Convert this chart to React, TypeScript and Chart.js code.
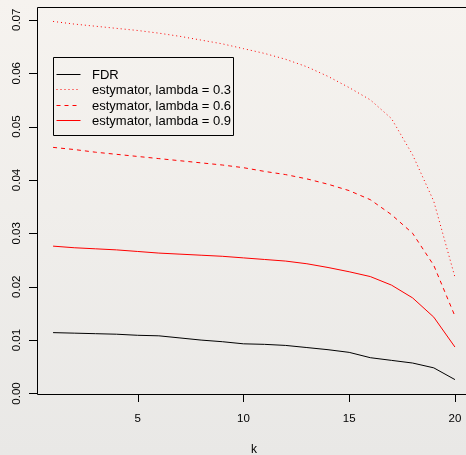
import React, { useEffect, useRef } from "react";
import { Chart, registerables } from "chart.js";

Chart.register(...registerables);

const ks = [1, 2, 3, 4, 5, 6, 7, 8, 9, 10, 11, 12, 13, 14, 15, 16, 17, 18, 19, 20];
const fdr = [0.0114, 0.0113, 0.0112, 0.0111, 0.0109, 0.0108, 0.0104, 0.0100, 0.0097, 0.0093, 0.0092, 0.0090, 0.0086, 0.0082, 0.0077, 0.0067, 0.0062, 0.0057, 0.0048, 0.0026];
const est03 = [0.0697, 0.0692, 0.0688, 0.0684, 0.0680, 0.0675, 0.0669, 0.0662, 0.0655, 0.0646, 0.0637, 0.0626, 0.0612, 0.0594, 0.0573, 0.0550, 0.0515, 0.0447, 0.0360, 0.0218];
const est06 = [0.0461, 0.0457, 0.0452, 0.0448, 0.0444, 0.0440, 0.0436, 0.0432, 0.0428, 0.0423, 0.0416, 0.0410, 0.0402, 0.0392, 0.0380, 0.0363, 0.0335, 0.0300, 0.0240, 0.0145];
const est09 = [0.0276, 0.0273, 0.0271, 0.0269, 0.0266, 0.0263, 0.0261, 0.0259, 0.0257, 0.0254, 0.0251, 0.0248, 0.0243, 0.0236, 0.0228, 0.0219, 0.0203, 0.0179, 0.0143, 0.0087];

const xTicks = [5, 10, 15, 20];
const yTicks = [0, 0.01, 0.02, 0.03, 0.04, 0.05, 0.06, 0.07];
const yTickLabels = ["0.00", "0.01", "0.02", "0.03", "0.04", "0.05", "0.06", "0.07"];
const xTitle = "k";

const legendLabels = ["FDR", "estymator, lambda = 0.3", "estymator, lambda = 0.6", "estymator, lambda = 0.9"];
const legendColors = ["#000000", "#ff0000", "#ff0000", "#ff0000"];
const legendDashes: number[][] = [[], [1, 3], [4, 4], []];

const FONT = "'Liberation Sans', Arial, Helvetica, sans-serif";

const rPlot = {
  id: "rPlot",
  beforeDraw(chart: any) {
    const { ctx, width, height } = chart;
    const g = ctx.createLinearGradient(0, 0, 0, height);
    g.addColorStop(0, "#f6f3ef");
    g.addColorStop(1, "#e9e8e6");
    ctx.save();
    ctx.fillStyle = g;
    ctx.fillRect(0, 0, width, height);
    ctx.restore();
  },
  afterDraw(chart: any) {
    const { ctx, chartArea } = chart;
    const xs = chart.scales.x;
    const ys = chart.scales.y;
    const L = chartArea.left, R = chartArea.right, T = chartArea.top, B = chartArea.bottom;
    ctx.save();
    ctx.strokeStyle = "#000";
    ctx.lineWidth = 1;
    ctx.setLineDash([]);
    ctx.beginPath();
    ctx.rect(L + 0.5, T + 0.5, R - L, B - T);
    ctx.stroke();

    // y ticks
    ctx.fillStyle = "#000";
    ctx.font = `11.5px ${FONT}`;
    yTicks.forEach((v, i) => {
      const y = Math.round(ys.getPixelForValue(v)) + 0.5;
      ctx.beginPath();
      ctx.moveTo(L - 8, y);
      ctx.lineTo(L + 0.5, y);
      ctx.stroke();
      ctx.save();
      ctx.translate(20, ys.getPixelForValue(v));
      ctx.rotate(-Math.PI / 2);
      ctx.textAlign = "center";
      ctx.textBaseline = "alphabetic";
      ctx.fillText(yTickLabels[i], 0, 0);
      ctx.restore();
    });

    // x ticks
    xTicks.forEach((v) => {
      const x = Math.round(xs.getPixelForValue(v)) + 0.5;
      ctx.beginPath();
      ctx.moveTo(x, B + 0.5);
      ctx.lineTo(x, B + 8);
      ctx.stroke();
      ctx.textAlign = "center";
      ctx.textBaseline = "alphabetic";
      ctx.fillText(String(v), xs.getPixelForValue(v), 422);
    });

    // x title
    ctx.font = `12px ${FONT}`;
    ctx.textAlign = "center";
    ctx.fillText(xTitle, (L + R) / 2, 453);

    // legend
    const bx = Math.round(xs.getPixelForValue(1)) + 0.5;
    const by = Math.round(ys.getPixelForValue(0.0631)) + 0.5;
    const bw = 180;
    const bh = 78;
    ctx.beginPath();
    ctx.rect(bx, by, bw, bh);
    ctx.stroke();
    ctx.font = `13px ${FONT}`;
    ctx.textAlign = "left";
    legendLabels.forEach((lab, i) => {
      const ly = by + 16.5 + i * 15.3;
      ctx.strokeStyle = legendColors[i];
      ctx.setLineDash(legendDashes[i]);
      ctx.beginPath();
      ctx.moveTo(bx + 3, Math.round(ly) + 0.5);
      ctx.lineTo(bx + 27, Math.round(ly) + 0.5);
      ctx.stroke();
      ctx.setLineDash([]);
      ctx.fillStyle = "#000";
      ctx.fillText(lab, bx + 38.5, ly + 5);
    });
    ctx.restore();
  },
};

export default function App() {
  const ref = useRef<HTMLCanvasElement>(null);
  useEffect(() => {
    if (!ref.current) return;
    const mk = (vals: number[]) => ks.map((k, i) => ({ x: k, y: vals[i] }));
    const chart = new Chart(ref.current, {
      type: "line",
      data: {
        datasets: [
          { label: legendLabels[0], data: mk(fdr), borderColor: "#000000", borderWidth: 1, pointRadius: 0, tension: 0, fill: false },
          { label: legendLabels[1], data: mk(est03), borderColor: "#ff0000", borderWidth: 1, borderDash: [1, 3], pointRadius: 0, tension: 0, fill: false },
          { label: legendLabels[2], data: mk(est06), borderColor: "#ff0000", borderWidth: 1, borderDash: [4, 4], pointRadius: 0, tension: 0, fill: false },
          { label: legendLabels[3], data: mk(est09), borderColor: "#ff0000", borderWidth: 1, pointRadius: 0, tension: 0, fill: false },
        ],
      },
      options: {
        responsive: false,
        animation: false,
        devicePixelRatio: 1,
        layout: { padding: { left: 37, top: 7, right: 9, bottom: 61 } },
        scales: {
          x: { type: "linear", min: 0.24, max: 20.76, display: false },
          y: { type: "linear", min: -0.0001, max: 0.0724, display: false },
        },
        plugins: { legend: { display: false }, tooltip: { enabled: false } },
      },
      plugins: [rPlot],
    });
    return () => chart.destroy();
  }, []);
  return (
    <div style={{ position: "fixed", left: 0, top: 0, width: 466, height: 455, overflow: "hidden", background: "#eeece9" }}>
      <canvas ref={ref} width={480} height={455} style={{ width: 480, height: 455, display: "block" }} />
    </div>
  );
}
